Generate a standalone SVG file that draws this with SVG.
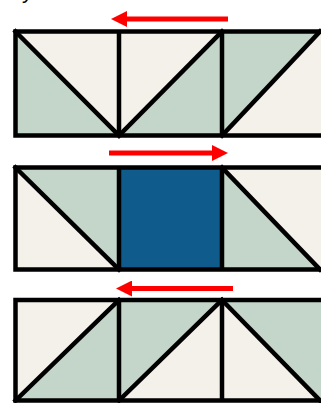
<svg xmlns="http://www.w3.org/2000/svg" width="321" height="403" viewBox="0 0 321 403">
<style>
.g{fill:#c3d6c9}
.c{fill:#f4f1ea}
.b{fill:#0f5b8b}
.k{stroke:#000;stroke-width:4.5;fill:none}
.d{stroke:#000;stroke-width:4.5;fill:none;stroke-linecap:square}
.a{stroke:#ff0000;stroke-width:5;fill:none}
.t{font-family:"Liberation Sans",Arial,sans-serif;font-size:22px;fill:#000}
</style>
<defs>
<marker id="ah" markerUnits="userSpaceOnUse" viewBox="0 0 16 16" markerWidth="16" markerHeight="16" refX="1" refY="8" orient="auto">
<path d="M0,0 L16,8 L0,16 z" fill="#ff0000"/>
</marker>
</defs>
<rect width="321" height="403" fill="#fff"/>
<text class="t" x="22" y="-2">y</text>
<g id="r1c1">
<polygon class="c" points="15.5,31.5 119,31.5 119,135.5"/>
<polygon class="g" points="15.5,31.5 15.5,135.5 119,135.5"/>
<line class="d" x1="15.5" y1="31.5" x2="119" y2="135.5"/>
</g>
<g id="r1c2">
<polygon class="c" points="119,31.5 222,31.5 119,135.5"/>
<polygon class="g" points="222,31.5 222,135.5 119,135.5"/>
<line class="d" x1="119" y1="135.5" x2="222" y2="31.5"/>
</g>
<g id="r1c3">
<polygon class="g" points="222,31.5 320,31.5 222,135.5"/>
<polygon class="c" points="320,31.5 330,31.5 330,135.5 222,135.5"/>
<line class="d" x1="222" y1="135.5" x2="320" y2="31.5"/>
</g>
<g id="r1frame">
<path class="k" d="M330,31.5 H15.5 V135.5 H330 M119,31.5 V137 M222,31.5 V137"/>
</g>
<g id="r2c1">
<polygon class="g" points="15.5,167.5 119,167.5 119,269.5"/>
<polygon class="c" points="15.5,167.5 15.5,269.5 119,269.5"/>
<line class="d" x1="15.5" y1="167.5" x2="119" y2="269.5"/>
</g>
<g id="r2c2">
<rect class="b" x="119" y="167.5" width="103" height="102"/>
</g>
<g id="r2c3">
<polygon class="c" points="222,167.5 330,167.5 330,269.5 320,269.5"/>
<polygon class="g" points="222,167.5 222,269.5 320,269.5"/>
<line class="d" x1="222" y1="167.5" x2="320" y2="269.5"/>
</g>
<g id="r2frame">
<path class="k" d="M330,167.5 H15.5 V269.5 H330 M119,166 V271 M222,166 V271"/>
</g>
<g id="r3c1">
<polygon class="c" points="15.5,300 119,300 15.5,400.5"/>
<polygon class="g" points="119,300 119,400.5 15.5,400.5"/>
<line class="d" x1="15.5" y1="400.5" x2="119" y2="300"/>
</g>
<g id="r3c2">
<polygon class="g" points="119,300 222,300 119,400.5"/>
<polygon class="c" points="222,300 222,400.5 119,400.5"/>
<line class="d" x1="119" y1="400.5" x2="222" y2="300"/>
</g>
<g id="r3c3">
<polygon class="g" points="222,300 330,300 330,400.5 320,400.5"/>
<polygon class="c" points="222,300 222,400.5 320,400.5"/>
<line class="d" x1="222" y1="300" x2="320" y2="400.5"/>
</g>
<g id="r3frame">
<path class="k" d="M330,300 H15.5 V400.5 H330 M119,298 V402 M222,298 V402"/>
</g>
<g id="connectors">
<line class="a" x1="228" y1="19" x2="126" y2="19" marker-end="url(#ah)"/>
<line class="a" x1="109" y1="153" x2="213" y2="153" marker-end="url(#ah)"/>
<line class="a" x1="233" y1="288.5" x2="131" y2="288.5" marker-end="url(#ah)"/>
</g>
</svg>
